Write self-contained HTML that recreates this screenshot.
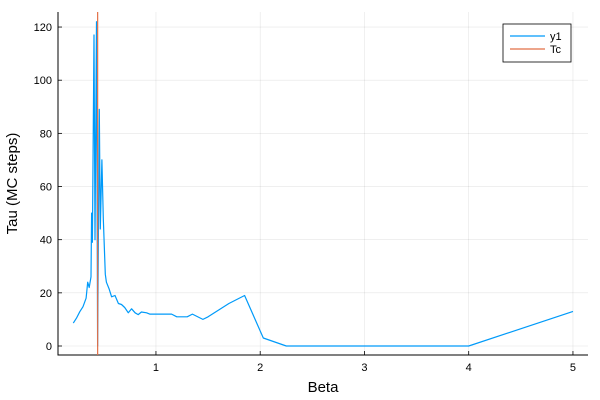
<!DOCTYPE html>
<html><head><meta charset="utf-8"><style>
body{margin:0;background:#fff}
svg{display:block;font-family:"Liberation Sans",sans-serif}
</style></head><body>
<svg id="chart" width="600" height="400" viewBox="0 0 600 400"></svg>
<script>
const betaValues=[0.207,0.238,0.27,0.30,0.33,0.345,0.36,0.377,0.383,0.39,0.406,0.415,0.43,0.44,0.457,0.466,0.482,0.495,0.514,0.525,0.55,0.575,0.607,0.64,0.67,0.70,0.735,0.766,0.80,0.83,0.86,0.91,0.94,1.0,1.1,1.15,1.2,1.3,1.35,1.45,1.5,1.7,1.85,2.03,2.25,4.0,5.0];
const tauValues=[8.6,10.5,12.9,14.8,18,24,22,26,50,39,117,40,122,0,89,44,70,48,27,24,21.6,18.5,19,16,15.6,14.5,12.5,14,12.5,11.8,12.8,12.5,12,12,12,12,11,11,12,10,11,16,19,3,0,0,13];
const tcValue=0.4407;
const xTicks=[1,2,3,4,5];
const yTicks=[0,20,40,60,80,100,120];
const legendLabels=["y1","Tc"];
const NS="http://www.w3.org/2000/svg";
const svg=document.getElementById('chart');
const L=58,R=588,T=12,B=355;
const sx=v=>51.7+v*104.25;
const sy=v=>346-v*2.658;
function mk(tag,attrs,parent){const e=document.createElementNS(NS,tag);for(const k in attrs)e.setAttribute(k,attrs[k]);(parent||svg).appendChild(e);return e;}
// grid
xTicks.forEach(t=>{const g=mk('line',{x1:sx(t),x2:sx(t),y1:T,y2:B,stroke:'#000','stroke-opacity':0.1,'stroke-width':0.6});


const lb=mk('text',{x:sx(t),y:B+16,'text-anchor':'middle','font-size':11,fill:'#000'});lb.textContent=t;


mk('line',{x1:sx(t),x2:sx(t),y1:B,y2:B-4,stroke:'#000','stroke-width':0.8});});
yTicks.forEach(t=>{const g=mk('line',{x1:L,x2:R,y1:sy(t),y2:sy(t),stroke:'#000','stroke-opacity':0.1,'stroke-width':0.6});


const lb=mk('text',{x:L-6,y:sy(t)+4,'text-anchor':'end','font-size':11,fill:'#000'});lb.textContent=t;


mk('line',{x1:L,x2:L+4,y1:sy(t),y2:sy(t),stroke:'#000','stroke-width':0.8});});
// axes
const ax=mk('path',{d:`M${L} ${T}V${B}H${R}`,fill:'none',stroke:'#000','stroke-width':1});


// series
const pts=betaValues.map((b,i)=>sx(b).toFixed(1)+','+sy(tauValues[i]).toFixed(1)).join(' ');
const ln=mk('polyline',{points:pts,fill:'none',stroke:'#009af9','stroke-width':1.2,'stroke-linejoin':'round'});


const tc=mk('line',{x1:sx(tcValue),x2:sx(tcValue),y1:T,y2:B,stroke:'#e26f46','stroke-width':1.2});


// labels
const xl=mk('text',{x:(L+R)/2,y:392,'text-anchor':'middle','font-size':15,fill:'#000'});xl.textContent='Beta';


const yl=mk('text',{x:17,y:(T+B)/2,'text-anchor':'middle','font-size':15,fill:'#000',transform:`rotate(-90 17 ${(T+B)/2})`});yl.textContent='Tau (MC steps)';


// legend
const lg=mk('g',{});


mk('rect',{x:503,y:24,width:68,height:38,fill:'#fff',stroke:'#000','stroke-width':0.8},lg);
const colors=['#009af9','#e26f46'];
legendLabels.forEach((s,i)=>{const y=36+i*13;
const e=mk('line',{x1:510,x2:545,y1:y,y2:y,stroke:colors[i],'stroke-width':1.2},lg);


const t=mk('text',{x:550,y:y+4,'font-size':11,fill:'#000'},lg);t.textContent=s;

});
</script>
</body></html>
